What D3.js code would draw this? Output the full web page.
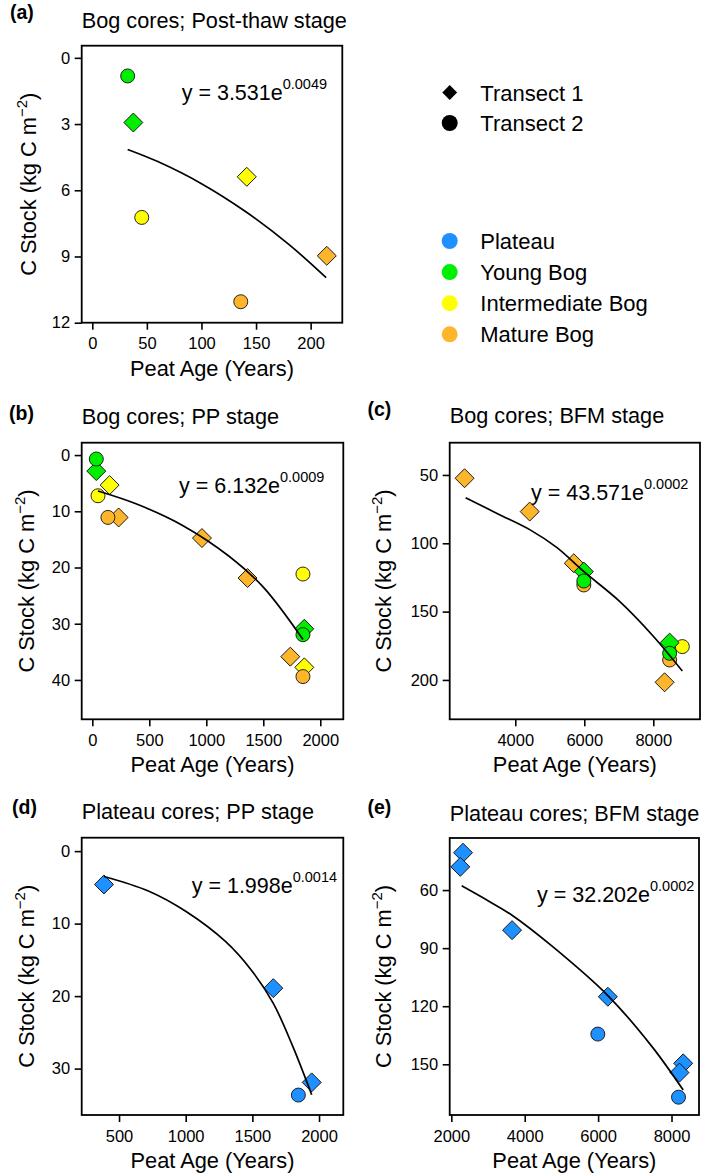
<!DOCTYPE html>
<html>
<head>
<meta charset="utf-8">
<script src="https://cdnjs.cloudflare.com/ajax/libs/d3/7.8.5/d3.min.js"></script>
<style>
body{margin:0;background:#fff}
svg{display:block;font-family:"Liberation Sans",Arial,sans-serif}
</style>
</head>
<body>
<svg id="fig" width="704" height="1175"></svg>
<script>
// legend categories
var groups = ["Plateau", "Young Bog", "Intermediate Bog", "Mature Bog"];
var groupColors = ["#1E90FF", "#00EE00", "#FFFF00", "#FDB62B"];
var transects = ["Transect 1", "Transect 2"];

// (a) Bog cores; Post-thaw stage
var aAge = [37.6, 141.5, 214.8, 32.4, 45.3, 136];
var aStock = [2.93, 5.39, 8.97, 0.82, 7.23, 11.05];
var aTransect = [1, 1, 1, 2, 2, 2];
var aGroup = ["Young Bog", "Intermediate Bog", "Mature Bog", "Young Bog", "Intermediate Bog", "Mature Bog"];
var aFitAge = [32.4, 60, 100, 140, 180, 214.2];
var aFitStock = [4.15, 4.7, 5.7, 6.95, 8.45, 9.96];

// (b) Bog cores; PP stage
var bAge = [231, 962, 1362, 1737, 152, 1860, 35, 1860, 50, 1848, 35, 1848, 137, 1848];
var bStock = [11.1, 14.76, 21.87, 35.86, 5.34, 37.76, 2.85, 30.9, 7.24, 21.16, 0.7, 31.95, 11.09, 39.4];
var bTransect = [1, 1, 1, 1, 1, 1, 1, 1, 2, 2, 2, 2, 2, 2];
var bGroup = ["Mature Bog", "Mature Bog", "Mature Bog", "Mature Bog", "Intermediate Bog", "Intermediate Bog",
  "Young Bog", "Young Bog", "Intermediate Bog", "Intermediate Bog", "Young Bog", "Young Bog", "Mature Bog", "Mature Bog"];
var bFitAge = [50, 400, 800, 1200, 1500, 1848];
var bFitStock = [6.4, 8.8, 12.6, 18, 23.5, 32.8];

// (c) Bog cores; BFM stage
var cAge = [2530, 4418, 5696, 8328, 8842, 5987, 8474, 5987, 8474, 5987, 8474];
var cStock = [52.4, 76.8, 114.6, 201.7, 175.6, 120.7, 172.7, 130.5, 185.4, 127.6, 180.5];
var cTransect = [1, 1, 1, 1, 2, 1, 1, 2, 2, 2, 2];
var cGroup = ["Mature Bog", "Mature Bog", "Mature Bog", "Mature Bog", "Intermediate Bog", "Young Bog", "Young Bog",
  "Mature Bog", "Mature Bog", "Young Bog", "Young Bog"];
var cFitAge = [2560, 3500, 4418, 5200, 6000, 7000, 8000, 8842];
var cFitStock = [66.6, 78.5, 90, 103, 121, 142, 168, 193.5];

// (d) Plateau cores; PP stage
var dAge = [387, 1657, 1945, 1845];
var dStock = [4.6, 18.9, 31.9, 33.65];
var dTransect = [1, 1, 1, 2];
var dGroup = ["Plateau", "Plateau", "Plateau", "Plateau"];
var dFitAge = [387, 720, 1000, 1300, 1500, 1657, 1800, 1945];
var dFitStock = [3.5, 5.5, 8.3, 12.5, 16.6, 21, 26.8, 33.6];

// (e) Plateau cores; BFM stage
var eAge = [2319, 2245, 3655, 6265, 8318, 8218, 5992, 8191];
var eStock = [40.7, 48.0, 80.7, 115.1, 149.5, 154.3, 134.4, 167.0];
var eTransect = [1, 1, 1, 1, 1, 1, 2, 2];
var eGroup = ["Plateau", "Plateau", "Plateau", "Plateau", "Plateau", "Plateau", "Plateau", "Plateau"];
var eFitAge = [2282, 3000, 3655, 4746, 6265, 7474, 8318];
var eFitStock = [57.8, 65.5, 73, 89, 114.5, 141, 163.3];

var svg = d3.select("#fig");
var color = d3.scaleOrdinal().domain(groups).range(groupColors);

function Panel(o){
    var x = d3.scaleLinear().domain(o.xDom).range([o.box[0], o.box[1]]);
    var y = d3.scaleLinear().domain(o.yDom).range([o.box[2], o.box[3]]);
    var g = svg.append("g");

    // axes
    var ax = g.append("g")
        .attr("transform", "translate(0," + o.box[3] + ")")
        .call(d3.axisBottom(x).tickValues(o.xTicks).tickSize(7).tickPadding(8).tickFormat(d3.format("d")));
    var ay = g.append("g")
        .attr("transform", "translate(" + o.box[0] + ",0)")
        .call(d3.axisLeft(y).tickValues(o.yTicks).tickSize(7).tickPadding(4.5).tickFormat(d3.format("d")));
    [ax, ay].forEach(function(a){
        a.select(".domain").remove();
        a.selectAll("line").attr("stroke", "#000").attr("stroke-width", 1.6);
        a.selectAll("text").attr("font-size", 16.5).attr("fill", "#000")
            .attr("font-family", '"Liberation Sans",Arial,sans-serif');
    });

    // points
    g.append("g").selectAll("path")
        .data(d3.range(o.age.length))
        .enter().append("path")
        .attr("d", function(i){
            return o.transect[i] === 1 ? d3.symbol(d3.symbolSquare, 180)() : d3.symbol(d3.symbolCircle, 154)();
        })
        .attr("transform", function(i){
            return "translate(" + x(o.age[i]) + "," + y(o.stock[i]) + ")" + (o.transect[i] === 1 ? " rotate(45)" : "");
        })
        .attr("fill", function(i){return color(o.group[i])})
        .attr("stroke", "#111")
        .attr("stroke-width", 0.9);

    // fitted curve
    var line = d3.line()
        .x(function(d){return x(d[0])})
        .y(function(d){return y(d[1])})
        .curve(d3.curveCatmullRom);
    g.append("path")
        .attr("d", line(d3.zip(o.fitAge, o.fitStock)))
        .attr("fill", "none")
        .attr("stroke", "#000")
        .attr("stroke-width", 1.7);

    // box
    g.append("rect")
        .attr("x", o.box[0]).attr("y", o.box[2])
        .attr("width", o.box[1] - o.box[0]).attr("height", o.box[3] - o.box[2])
        .attr("fill", "none").attr("stroke", "#000").attr("stroke-width", 1.8);

    // equation
    var eq = g.append("text")
        .attr("x", o.eq[0]).attr("y", o.eq[1])
        .attr("font-size", 21.5)
        .text(o.eqText[0]);
    eq.append("tspan").attr("dy", -11).attr("font-size", 14.5).text(o.eqText[1]);

    // titles
    g.append("text").attr("x", o.tag[0]).attr("y", o.tag[1])
        .attr("font-size", 19.5).attr("font-weight", "bold").text(o.tagText);
    g.append("text").attr("x", o.box[0]).attr("y", o.titleY)
        .attr("font-size", 21.7).text(o.title);
    g.append("text")
        .attr("x", (o.box[0] + o.box[1]) / 2).attr("y", o.box[3] + 53)
        .attr("text-anchor", "middle").attr("font-size", 21.8)
        .text("Peat Age (Years)");
    var yl = g.append("text")
        .attr("transform", "translate(" + o.ylabX + "," + (o.box[2] + o.box[3]) / 2 + ") rotate(-90)")
        .attr("text-anchor", "middle").attr("font-size", 21.8);
    yl.append("tspan").text("C Stock (kg C m");
    yl.append("tspan").attr("dy", -9).attr("font-size", 15).text("\u22122");
    yl.append("tspan").attr("dy", 9).text(")");
    return this;
}

new Panel({age: aAge, stock: aStock, transect: aTransect, group: aGroup, fitAge: aFitAge, fitStock: aFitStock,
    box: [81.7, 342.3, 45.7, 322.7], xDom: [-9.7, 229], yDom: [-0.55, 12],
    xTicks: [0, 50, 100, 150, 200], yTicks: [0, 3, 6, 9, 12],
    eq: [181.7, 100.4], eqText: ["y = 3.531e", "0.0049"],
    tag: [10, 19], tagText: "(a)", titleY: 28.3, title: "Bog cores; Post-thaw stage", ylabX: 36});

new Panel({age: bAge, stock: bStock, transect: bTransect, group: bGroup, fitAge: bFitAge, fitStock: bFitStock,
    box: [81.7, 343.3, 442.7, 719.3], xDom: [-93, 2202], yDom: [-2.2, 47],
    xTicks: [0, 500, 1000, 1500, 2000], yTicks: [0, 10, 20, 30, 40],
    eq: [179, 492.7], eqText: ["y = 6.132e", "0.0009"],
    tag: [9, 419.5], tagText: "(b)", titleY: 424.3, title: "Bog cores; PP stage", ylabX: 34});

new Panel({age: cAge, stock: cStock, transect: cTransect, group: cGroup, fitAge: cFitAge, fitStock: cFitStock,
    box: [449.7, 700, 442.7, 719.3], xDom: [2099, 9354], yDom: [26.4, 228.8],
    xTicks: [4000, 6000, 8000], yTicks: [50, 100, 150, 200],
    eq: [531, 500], eqText: ["y = 43.571e", "0.0002"],
    tag: [367.5, 416], tagText: "(c)", titleY: 423.3, title: "Bog cores; BFM stage", ylabX: 391});

new Panel({age: dAge, stock: dStock, transect: dTransect, group: dGroup, fitAge: dFitAge, fitStock: dFitStock,
    box: [81.7, 343.3, 837.7, 1115], xDom: [220, 2182], yDom: [-1.85, 36.4],
    xTicks: [500, 1000, 1500, 2000], yTicks: [0, 10, 20, 30],
    eq: [191.7, 892.7], eqText: ["y = 1.998e", "0.0014"],
    tag: [12, 814.3], tagText: "(d)", titleY: 819, title: "Plateau cores; PP stage", ylabX: 34});

new Panel({age: eAge, stock: eStock, transect: eTransect, group: eGroup, fitAge: eFitAge, fitStock: eFitStock,
    box: [449.7, 699, 838, 1115], xDom: [1956, 8749], yDom: [33.1, 176.2],
    xTicks: [2000, 4000, 6000, 8000], yTicks: [60, 90, 120, 150],
    eq: [537, 902], eqText: ["y = 32.202e", "0.0002"],
    tag: [367.5, 814.3], tagText: "(e)", titleY: 820.7, title: "Plateau cores; BFM stage", ylabX: 391});

// legend
var leg = svg.append("g");
var shapeRows = leg.selectAll("g.sh").data(transects).enter().append("g")
    .attr("transform", function(d, i){return "translate(449.7," + (92.5 + i * 30.5) + ")"});
shapeRows.append("path")
    .attr("d", function(d, i){return i === 0 ? d3.symbol(d3.symbolSquare, 110)() : d3.symbol(d3.symbolCircle, 200)()})
    .attr("transform", function(d, i){return i === 0 ? "rotate(45)" : null})
    .attr("fill", "#000");
shapeRows.append("text").attr("x", 30.6).attr("y", 8).attr("font-size", 22).text(function(d){return d});

var colRows = leg.selectAll("g.co").data(groups).enter().append("g")
    .attr("transform", function(d, i){return "translate(449.7," + (241 + i * 31.1) + ")"});
colRows.append("circle").attr("r", 8).attr("fill", function(d){return color(d)});
colRows.append("text").attr("x", 30.6).attr("y", 8).attr("font-size", 22).text(function(d){return d});
</script>
</body>
</html>
